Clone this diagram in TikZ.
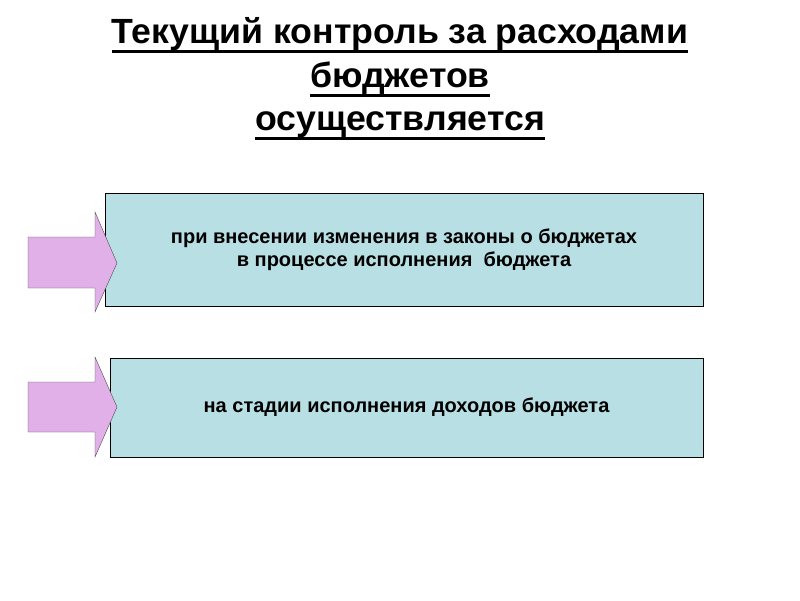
\documentclass[tikz,border=0pt]{standalone}
\usepackage{fontspec}
\setmainfont{Liberation Sans}
\newfontfamily\headfont{Liberation Sans}[FakeStretch=1.02]
\usepackage{tikz}
\usetikzlibrary{positioning}

\definecolor{boxfill}{RGB}{184,224,228}
\definecolor{arrowfill}{RGB}{226,176,232}

% thick underline at a fixed depth
\newcommand{\headline}[1]{\setbox0\hbox{#1}\leavevmode\rlap{\rule[-10pt]{\wd0}{3pt}}\box0}

\tikzset{
  heading/.style={font=\headfont\bfseries\fontsize{35}{42}\selectfont, anchor=base, inner sep=0pt},
  stagebox/.style={draw=black, fill=boxfill, thin, font=\bfseries\fontsize{20}{23}\selectfont, align=center, inner sep=0pt},
  pointer/.style={draw=black!70, fill=arrowfill, thin, line join=miter}
}

\begin{document}
\begin{tikzpicture}[x=1pt, y=-1pt]
        \useasboundingbox (0,0) rectangle (800,600);
        % title
        \node[heading] (title1) at (400,43) {\headline{Текущий контроль за расходами}};
        \node[heading] (title2) at (400,87) {\headline{бюджетов}};
        \node[heading] (title3) at (400,130) {\headline{осуществляется}};
        % boxes
        \node[stagebox, minimum width=598pt, minimum height=113pt] (upper) at (404,249.5)
            {при внесении изменения в законы о бюджетах\\в процессе исполнения\ \ бюджета};
        \node[stagebox, minimum width=593pt, minimum height=99pt] (lower) at (406.5,407.5)
            {на стадии исполнения доходов бюджета};
        % arrows
        \draw[pointer] (28,237) -- (95,237) -- (95,212) -- (117,263) -- (95,312) -- (95,288) -- (28,288) -- cycle;
        \draw[pointer] (28,382) -- (95,382) -- (95,357) -- (117,407) -- (95,457) -- (95,432) -- (28,432) -- cycle;
    \end{tikzpicture}
\end{document}
